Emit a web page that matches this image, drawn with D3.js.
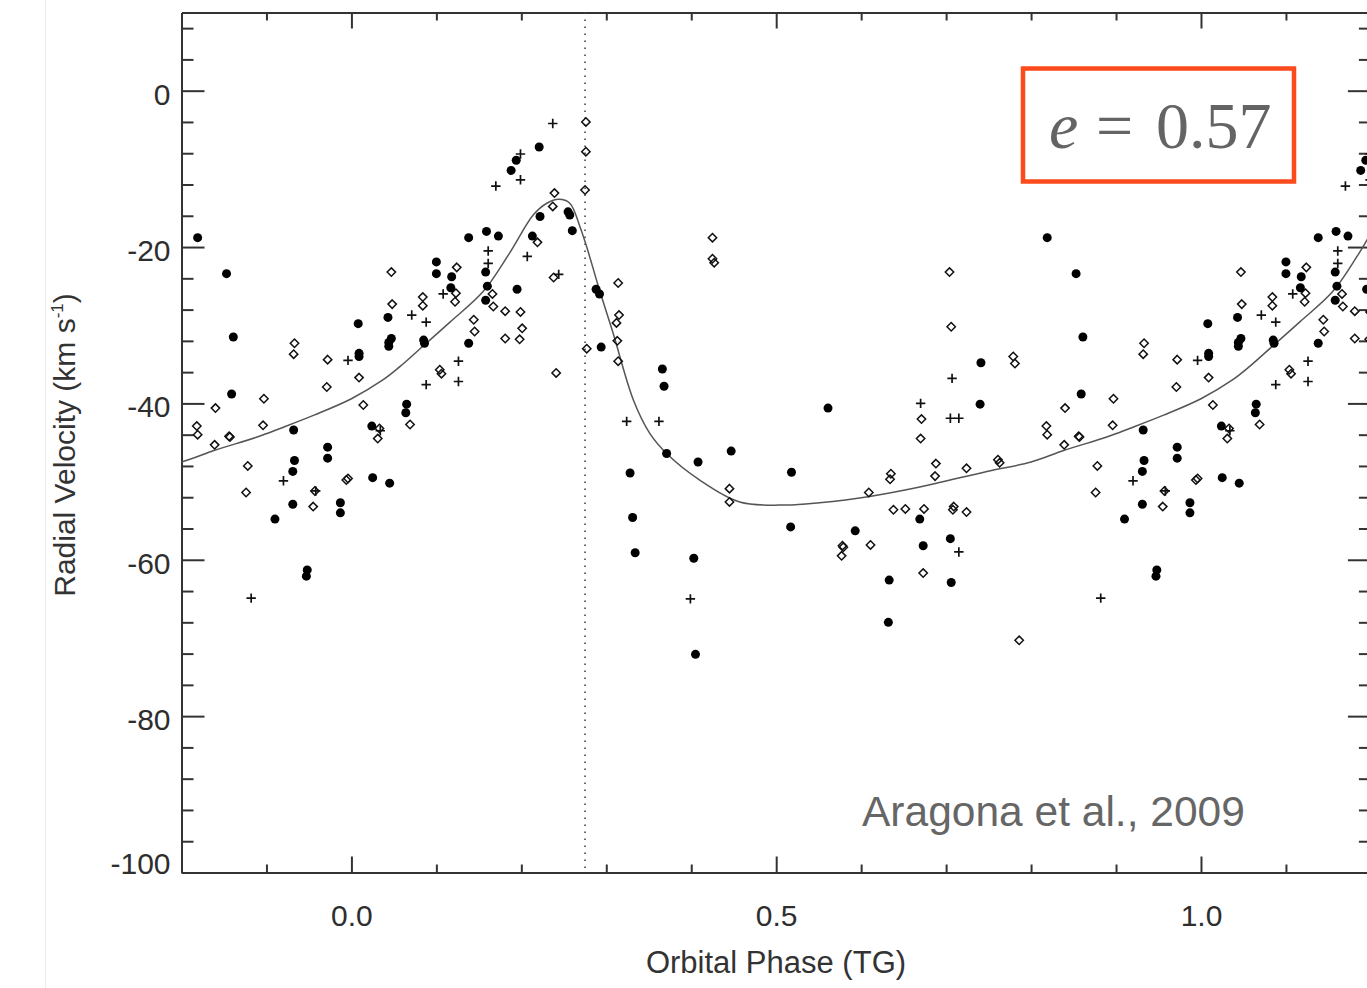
<!DOCTYPE html>
<html>
<head>
<meta charset="utf-8">
<script src="https://cdn.jsdelivr.net/npm/d3@7"></script>
<style>
  body { margin: 0; background: #fff; }
</style>
</head>
<body>
<div id="chart"></div>
<script>
// data (phase folded into 0..1, velocity in km/s)
var circPhase = [0.819, 0.853, 0.861, 0.859, 0.932, 0.933, 0.931, 0.931, 0.910, 0.972, 0.972, 0.987, 0.987, 0.948, 0.947,
  0.008, 0.009, 0.009, 0.024, 0.025, 0.045, 0.065, 0.064, 0.043, 0.047, 0.044, 0.044, 0.085, 0.086, 0.100, 0.100,
  0.118, 0.117, 0.138, 0.159, 0.173, 0.158, 0.160, 0.158, 0.195, 0.138, 0.194, 0.188, 0.221, 0.255, 0.257, 0.222,
  0.260, 0.213, 0.288, 0.292, 0.294, 0.366, 0.368, 0.371, 0.408, 0.447, 0.328, 0.331, 0.334, 0.403, 0.405, 0.561,
  0.518, 0.517, 0.593, 0.633, 0.632, 0.669, 0.673, 0.705, 0.706, 0.741, 0.740];
var circVel = [-18.8, -23.4, -31.5, -38.8, -43.4, -47.3, -48.7, -52.9, -54.8, -45.6, -47.0, -52.7, -54.0, -61.3, -62.1,
  -29.8, -33.6, -34.0, -42.9, -49.5, -50.2, -40.1, -41.2, -29.0, -31.7, -32.2, -32.7, -31.9, -32.3, -21.9, -23.4,
  -23.8, -25.2, -18.8, -18.0, -18.6, -23.2, -25.0, -26.8, -25.4, -32.3, -8.9, -10.2, -7.2, -15.5, -15.9, -16.1,
  -17.9, -18.6, -25.4, -26.0, -32.8, -35.6, -37.8, -46.4, -47.5, -46.1, -48.9, -54.6, -59.1, -59.8, -72.1, -40.6,
  -48.8, -55.8, -56.3, -62.6, -68.0, -54.8, -58.2, -57.3, -62.9, -34.8, -40.1];

var diaPhase = [0.840, 0.818, 0.819, 0.839, 0.856, 0.857, 0.896, 0.897, 0.878, 0.876, 0.994, 0.996, 0.957, 0.955,
  0.933, 0.932, 0.972, 0.971, 0.009, 0.014, 0.033, 0.031, 0.069, 0.047, 0.048, 0.084, 0.084, 0.104, 0.106, 0.124,
  0.123, 0.122, 0.144, 0.145, 0.166, 0.167, 0.181, 0.181, 0.199, 0.201, 0.198, 0.219, 0.239, 0.237, 0.238, 0.241,
  0.276, 0.276, 0.275, 0.277, 0.314, 0.315, 0.312, 0.313, 0.314, 0.425, 0.425, 0.427, 0.445, 0.445, 0.704, 0.706,
  0.779, 0.781, 0.671, 0.670, 0.688, 0.687, 0.724, 0.761, 0.763, 0.609, 0.635, 0.634, 0.638, 0.652, 0.674, 0.709,
  0.708, 0.724, 0.578, 0.579, 0.577, 0.611, 0.673, 0.786];
var diaVel = [-40.6, -42.9, -44.0, -45.3, -44.2, -44.3, -42.8, -39.4, -48.0, -51.4, -49.8, -49.6, -51.2, -53.2,
  -32.3, -33.7, -34.4, -37.9, -36.7, -40.2, -43.2, -44.5, -42.7, -23.2, -27.3, -26.4, -27.5, -35.7, -36.2, -22.6,
  -25.9, -27.0, -29.3, -30.8, -26.0, -27.6, -28.2, -31.7, -28.3, -30.4, -31.8, -19.4, -13.1, -14.8, -23.9, -36.1,
  -4.0, -7.8, -12.7, -33.0, -24.6, -28.7, -29.7, -32.0, -34.6, -18.8, -21.5, -22.0, -50.9, -52.6, -23.2, -30.2,
  -34.0, -34.9, -42.0, -44.5, -47.7, -49.3, -48.3, -47.2, -47.6, -51.4, -49.0, -49.7, -53.6, -53.5, -53.5, -53.2,
  -53.6, -53.9, -58.2, -58.4, -59.5, -58.1, -61.7, -70.3];

var plusPhase = [0.920, 0.958, 0.882, 0.996, 0.034, 0.071, 0.088, 0.088, 0.108, 0.126, 0.126, 0.161, 0.161, 0.170,
  0.199, 0.199, 0.207, 0.237, 0.244, 0.324, 0.362, 0.399, 0.670, 0.707, 0.705, 0.715, 0.715];
var plusVel = [-49.9, -51.2, -64.9, -34.5, -43.5, -28.7, -29.6, -37.6, -26.0, -34.6, -37.2, -20.5, -22.1, -12.2,
  -8.1, -11.4, -21.2, -4.2, -23.5, -42.3, -42.3, -65.0, -40.0, -36.8, -41.9, -41.9, -59.0];

// orbit fit over one cycle
var fitPhase = [0.000, 0.037, 0.057, 0.085, 0.116, 0.155, 0.186, 0.214, 0.230, 0.244, 0.257, 0.269, 0.277, 0.292,
  0.308, 0.332, 0.351, 0.371, 0.410, 0.457, 0.512, 0.551, 0.610, 0.669, 0.748, 0.800, 0.839, 0.889, 0.916, 0.956];
var fitVel = [-39.4, -37.0, -35.3, -32.6, -29.6, -25.7, -20.8, -15.9, -14.4, -13.9, -14.4, -17.4, -20.0, -25.5,
  -31.0, -39.6, -43.8, -46.4, -49.8, -52.6, -53.0, -52.7, -51.9, -50.7, -48.7, -47.5, -46.0, -44.3, -43.2, -41.5];

var periastronPhase = 0.275;

var xMajorTicks = [0, 0.5, 1.0];
var xMinorTicks = [-0.1, 0.1, 0.2, 0.3, 0.4, 0.6, 0.7, 0.8, 0.9, 1.1];
var xTickLabels = ["0.0", "0.5", "1.0"];
var yMajorTicks = [-100, -80, -60, -40, -20, 0];
var yMinorTicks = [-96, -92, -88, -84, -76, -72, -68, -64, -56, -52, -48, -44, -36, -32, -28, -24, -16, -12, -8, -4, 4, 8];
var yTickLabels = ["-100", "-80", "-60", "-40", "-20", "0"];

var svgWidth = 1367;
var svgHeight = 988;

var margin = {
  top: 12.5,
  left: 181.5
};

var width = 1370.9 - margin.left;
var height = 872.5 - margin.top;

var sans = '"Liberation Sans", Helvetica, Arial, sans-serif';

var svg = d3
  .select("#chart")
  .append("svg")
  .attr("width", svgWidth)
  .attr("height", svgHeight)
  .attr("font-family", sans);

// faint page edge on the left
svg.append("line")
  .attr("x1", 45.5).attr("x2", 45.5)
  .attr("y1", 0).attr("y2", svgHeight)
  .attr("stroke", "#ececec")
  .attr("stroke-width", 1);

var chartGroup = svg.append("g")
  .attr("transform", `translate(${margin.left}, ${margin.top})`);

chartGroup.append("clipPath")
  .attr("id", "plot-clip")
  .append("rect")
  .attr("width", width)
  .attr("height", height);

var xLinearScale = d3.scaleLinear()
  .domain([-0.2, 1.2])
  .range([0, width]);

var yLinearScale = d3.scaleLinear()
  .domain([-100, 10])
  .range([height, 0]);

// fold the phases: each point is shown once per cycle inside the window
function folded(phases, vels, lo, hi) {
  var rows = [];
  phases.forEach(function(p, i) {
    [-1, 0, 1].forEach(function(k) {
      var ph = p + k;
      if (ph >= lo && ph <= hi) rows.push({phase: ph, vel: vels[i]});
    });
  });
  return rows.sort((a, b) => a.phase - b.phase);
}

var circData = folded(circPhase, circVel, -0.2, 1.2);
var diaData = folded(diaPhase, diaVel, -0.2, 1.2);
var plusData = folded(plusPhase, plusVel, -0.2, 1.2);
var fitData = folded(fitPhase, fitVel, -0.35, 1.35);

// axes: inward ticks on all four sides
var axisColor = "#333";

function styleAxis(g) {
  g.attr("color", axisColor);
  g.selectAll("path, line").attr("stroke-width", 2);
  g.selectAll("text")
    .attr("font-size", "30px")
    .attr("fill", "#2e2e2e")
    .attr("font-family", sans);
}

chartGroup.append("g")
  .attr("transform", `translate(0, ${height})`)
  .call(d3.axisBottom(xLinearScale).tickValues(xMajorTicks).tickSize(-16).tickSizeOuter(0)
    .tickPadding(32.5).tickFormat((d, i) => xTickLabels[i]))
  .call(styleAxis);

chartGroup.append("g")
  .attr("transform", `translate(0, ${height})`)
  .call(d3.axisBottom(xLinearScale).tickValues(xMinorTicks).tickSize(-8).tickSizeOuter(0).tickFormat(""))
  .call(styleAxis);

chartGroup.append("g")
  .call(d3.axisTop(xLinearScale).tickValues(xMajorTicks).tickSize(-16).tickSizeOuter(0).tickFormat(""))
  .call(styleAxis);

chartGroup.append("g")
  .call(d3.axisTop(xLinearScale).tickValues(xMinorTicks).tickSize(-8).tickSizeOuter(0).tickFormat(""))
  .call(styleAxis);

var leftMajor = chartGroup.append("g")
  .call(d3.axisLeft(yLinearScale).tickValues(yMajorTicks).tickSize(-23).tickSizeOuter(0)
    .tickPadding(11).tickFormat((d, i) => yTickLabels[i]))
  .call(styleAxis);

leftMajor.selectAll("text").attr("dy", "0.45em");
// bottom label is lifted off the corner
leftMajor.selectAll("text").filter(d => d === -100).attr("dy", "0.04em");

chartGroup.append("g")
  .call(d3.axisLeft(yLinearScale).tickValues(yMinorTicks).tickSize(-12).tickSizeOuter(0).tickFormat(""))
  .call(styleAxis);

chartGroup.append("g")
  .attr("transform", `translate(${width}, 0)`)
  .call(d3.axisRight(yLinearScale).tickValues(yMajorTicks).tickSize(-23).tickSizeOuter(0).tickFormat(""))
  .call(styleAxis);

chartGroup.append("g")
  .attr("transform", `translate(${width}, 0)`)
  .call(d3.axisRight(yLinearScale).tickValues(yMinorTicks).tickSize(-12).tickSizeOuter(0).tickFormat(""))
  .call(styleAxis);

// dotted line at periastron
chartGroup.append("line")
  .attr("x1", xLinearScale(periastronPhase))
  .attr("x2", xLinearScale(periastronPhase))
  .attr("y1", 0)
  .attr("y2", height)
  .attr("stroke", "#444")
  .attr("stroke-width", 1.6)
  .attr("stroke-dasharray", "1.6,5.4");

// fitted orbit
var fitLine = d3.line()
  .x(d => xLinearScale(d.phase))
  .y(d => yLinearScale(d.vel))
  .curve(d3.curveCatmullRom.alpha(0.5));

chartGroup.append("path")
  .datum(fitData)
  .attr("clip-path", "url(#plot-clip)")
  .attr("d", fitLine)
  .attr("fill", "none")
  .attr("stroke", "#555")
  .attr("stroke-width", 1.5);

// markers
chartGroup.selectAll(".dia")
  .data(diaData)
  .enter()
  .append("path")
  .attr("class", "dia")
  .attr("transform", d => `translate(${xLinearScale(d.phase)}, ${yLinearScale(d.vel)})`)
  .attr("d", "M0,-4.2L4.2,0L0,4.2L-4.2,0Z")
  .attr("fill", "none")
  .attr("stroke", "#111")
  .attr("stroke-width", 1.5);

chartGroup.selectAll(".plus")
  .data(plusData)
  .enter()
  .append("path")
  .attr("class", "plus")
  .attr("transform", d => `translate(${xLinearScale(d.phase)}, ${yLinearScale(d.vel)})`)
  .attr("d", "M-4.7,0H4.7M0,-4.7V4.7")
  .attr("stroke", "#111")
  .attr("stroke-width", 1.7);

chartGroup.selectAll(".dot")
  .data(circData)
  .enter()
  .append("circle")
  .attr("class", "dot")
  .attr("cx", d => xLinearScale(d.phase))
  .attr("cy", d => yLinearScale(d.vel))
  .attr("r", 4.5)
  .attr("fill", "#000");

// axis titles
svg.append("text")
  .attr("x", 776)
  .attr("y", 973)
  .attr("text-anchor", "middle")
  .attr("font-size", "31px")
  .attr("fill", "#333")
  .text("Orbital Phase (TG)");

var yTitle = svg.append("text")
  .attr("transform", "translate(75, 445) rotate(-90)")
  .attr("text-anchor", "middle")
  .attr("font-size", "30px")
  .attr("fill", "#333");
yTitle.append("tspan").text("Radial Velocity (km s");
yTitle.append("tspan").attr("dy", -12).attr("font-size", "17px").text("-1");
yTitle.append("tspan").attr("dy", 12).text(")");

// reference note
svg.append("text")
  .attr("x", 862)
  .attr("y", 826)
  .attr("font-size", "42.5px")
  .attr("fill", "#666")
  .text("Aragona et al., 2009");

// eccentricity box
svg.append("rect")
  .attr("x", 1023)
  .attr("y", 68.5)
  .attr("width", 271)
  .attr("height", 113)
  .attr("fill", "none")
  .attr("stroke", "#fc4a1c")
  .attr("stroke-width", 4.5);

var eText = svg.append("text")
  .attr("y", 148)
  .attr("font-family", '"Liberation Serif", "Times New Roman", serif')
  .attr("font-size", "66px")
  .attr("fill", "#646464");
eText.append("tspan").attr("x", 1049).attr("font-style", "italic").text("e");
eText.append("tspan").attr("x", 1096).text("=");
eText.append("tspan").attr("x", 1156).text("0.57");
</script>
</body>
</html>
